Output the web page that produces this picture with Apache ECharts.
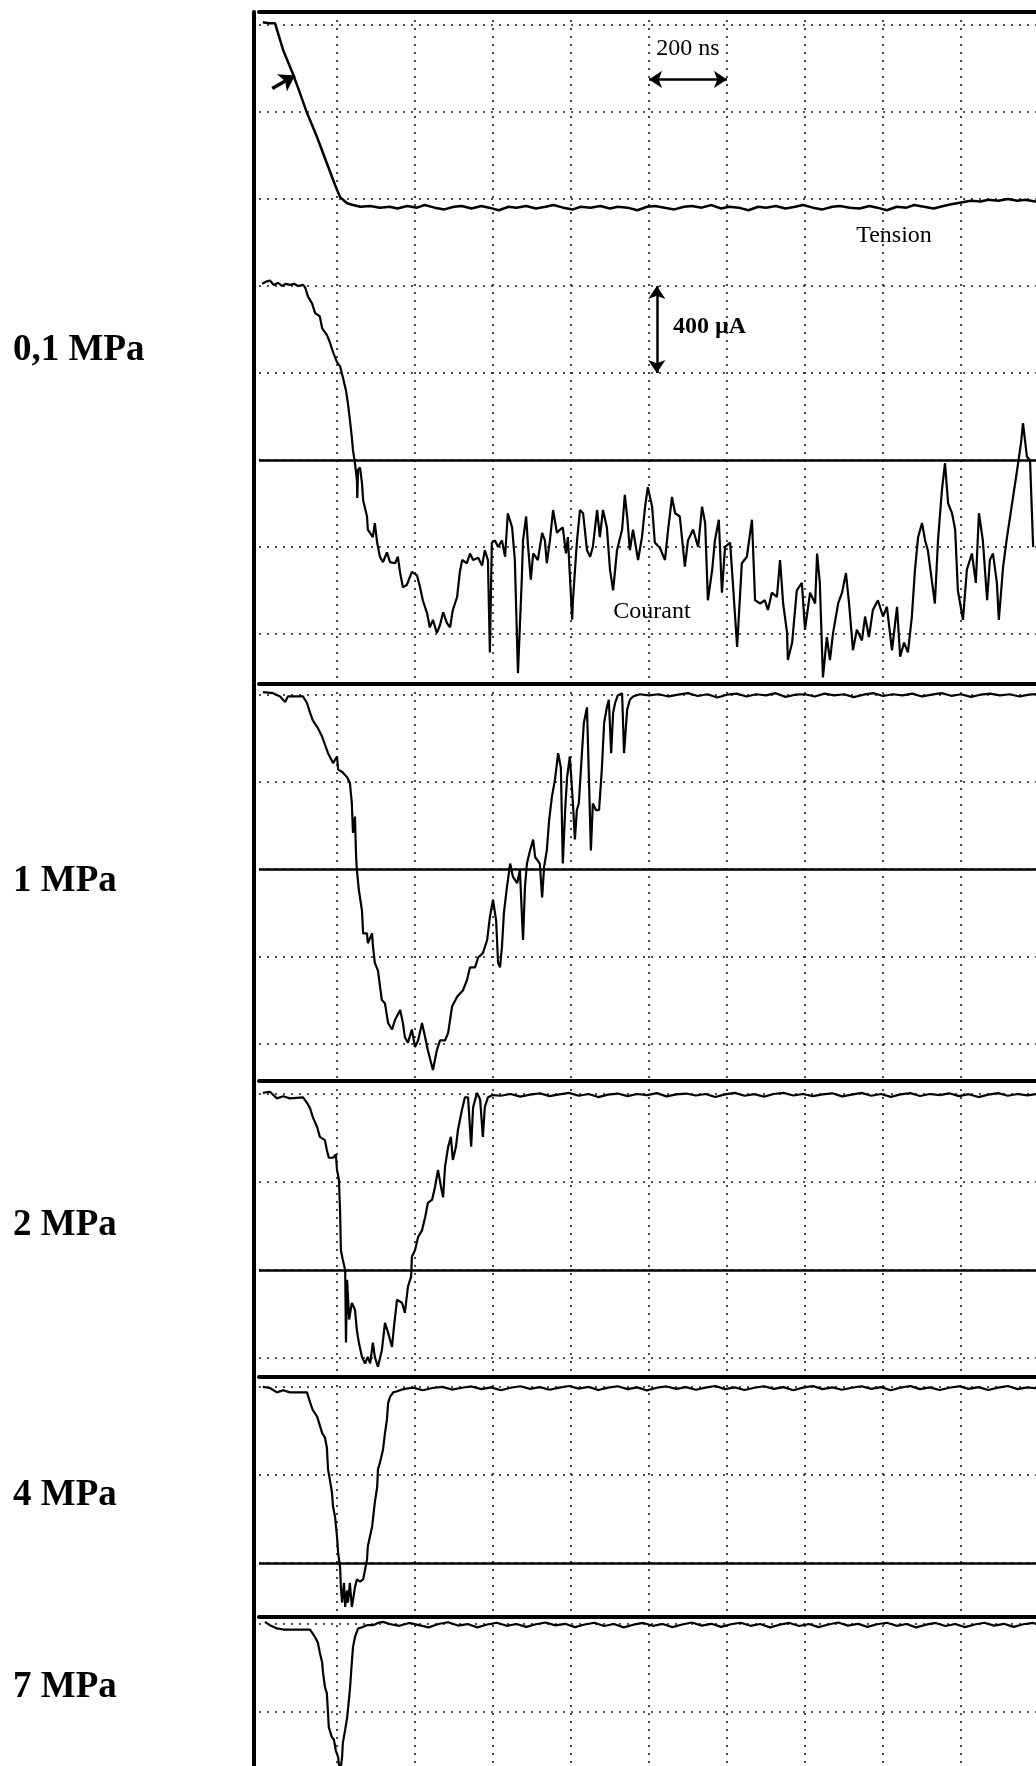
<!DOCTYPE html>
<html>
<head>
<meta charset="utf-8">
<script src="https://cdn.jsdelivr.net/npm/echarts@6/dist/echarts.min.js"></script>
<style>
  html, body { margin: 0; padding: 0; background: #fff; }
  #chart { width: 1036px; height: 1766px; }
</style>
</head>
<body>
<div id="chart"></div>
<script>
// temps en ns (200 ns / div), courant en µA (400 µA / div), tension en divisions
const pressures = ['0,1 MPa', '1 MPa', '2 MPa', '4 MPa', '7 MPa'];

const tension01 = [[10,5.03],[25,5.02],[41,5.02],[62,4.71],[85,4.46],[100,4.28],[123,3.99],[149,3.71],[174,3.41],[195,3.16],[208,3.02],[226,2.95],[241,2.93],
  [260,2.91],[285,2.92],[310,2.90],[335,2.91],[355,2.89],[380,2.92],[405,2.90],[425,2.93],[450,2.90],[475,2.88],[500,2.91],[520,2.92],[545,2.89],[570,2.92],
  [590,2.90],[615,2.87],[640,2.91],[660,2.90],[685,2.92],[710,2.89],[735,2.91],[755,2.93],[780,2.90],[805,2.88],[825,2.91],[850,2.90],[875,2.92],[900,2.89],
  [920,2.91],[945,2.90],[970,2.87],[995,2.91],[1015,2.92],[1040,2.90],[1065,2.88],[1090,2.91],[1110,2.92],[1135,2.90],[1160,2.93],[1185,2.89],[1205,2.91],
  [1230,2.90],[1255,2.87],[1280,2.91],[1300,2.90],[1325,2.92],[1350,2.89],[1375,2.91],[1395,2.93],[1420,2.90],[1445,2.88],[1470,2.91],[1490,2.92],[1515,2.90],
  [1540,2.89],[1565,2.92],[1585,2.90],[1610,2.87],[1635,2.91],[1660,2.90],[1680,2.93],[1705,2.91],[1730,2.89],[1755,2.92],[1775,2.94],[1800,2.96],[1825,2.98],
  [1850,2.97],[1870,2.99],[1895,2.98],[1920,3.00],[1945,2.98],[1965,2.99],[1990,2.97],[2002,2.98]];

const courant01 = [[8,810],[18,820],[28,825],[38,805],[49,815],[59,800],[69,810],[79,805],[90,810],[100,800],[113,805],[118,795],[126,750],[136,720],[144,675],
  [156,660],[162,605],[174,575],[182,540],[190,495],[200,450],[208,430],[215,380],[223,320],[228,260],[233,185],[238,105],[241,45],[246,-15],[251,-90],[252,-175],
  [254,-45],[259,-35],[264,-105],[267,-185],[277,-260],[279,-320],[292,-355],[297,-290],[303,-380],[310,-445],[318,-470],[328,-425],[336,-470],[349,-475],
  [356,-445],[362,-520],[369,-585],[379,-575],[392,-515],[405,-530],[413,-585],[420,-645],[431,-705],[438,-770],[446,-735],[456,-795],[464,-760],[472,-700],
  [482,-750],[490,-770],[497,-690],[508,-630],[515,-515],[521,-460],[533,-475],[541,-430],[549,-460],[562,-450],[572,-485],[579,-415],[587,-460],[592,-885],
  [597,-380],[605,-370],[613,-400],[623,-370],[631,-445],[638,-245],[649,-310],[656,-460],[664,-980],[674,-540],[677,-370],[685,-260],[690,-400],[697,-550],
  [703,-430],[715,-460],[726,-335],[733,-370],[738,-475],[746,-370],[754,-230],[764,-335],[772,-320],[779,-310],[787,-430],[792,-355],[803,-735],[805,-645],
  [815,-380],[823,-230],[831,-245],[841,-415],[849,-445],[856,-400],[867,-230],[874,-355],[882,-230],[892,-310],[900,-505],[908,-600],[918,-415],[931,-320],
  [938,-160],[944,-260],[951,-415],[959,-320],[972,-460],[982,-355],[990,-215],[997,-125],[1008,-215],[1015,-380],[1028,-405],[1041,-460],[1049,-320],
  [1059,-170],[1067,-245],[1079,-260],[1092,-490],[1100,-370],[1113,-320],[1126,-400],[1136,-215],[1144,-290],[1151,-645],[1162,-505],[1169,-370],[1179,-275],
  [1187,-610],[1195,-400],[1208,-380],[1215,-565],[1226,-860],[1238,-475],[1251,-445],[1264,-275],[1272,-645],[1285,-660],[1297,-645],[1305,-690],[1315,-610],
  [1328,-630],[1336,-460],[1344,-660],[1354,-795],[1356,-920],[1367,-840],[1379,-600],[1392,-565],[1400,-780],[1413,-610],[1426,-660],[1431,-430],[1438,-565],
  [1446,-1000],[1456,-815],[1464,-920],[1472,-795],[1485,-660],[1495,-610],[1505,-520],[1513,-660],[1523,-875],[1533,-780],[1546,-830],[1554,-720],[1564,-815],
  [1574,-690],[1587,-645],[1600,-720],[1610,-675],[1623,-875],[1636,-675],[1644,-905],[1654,-840],[1664,-885],[1674,-720],[1682,-505],[1690,-355],[1700,-290],
  [1708,-370],[1715,-415],[1726,-565],[1733,-660],[1741,-370],[1751,-140],[1759,-15],[1767,-200],[1777,-245],[1785,-320],[1792,-600],[1805,-735],[1815,-505],
  [1828,-430],[1838,-565],[1846,-245],[1856,-370],[1867,-645],[1874,-460],[1882,-430],[1892,-565],[1897,-735],[1908,-490],[1918,-355],[1931,-200],[1944,-45],
  [1954,80],[1959,170],[1969,15],[1977,0],[1985,-400]];

const courant1 = [[10,810],[36,805],[54,790],[67,765],[74,790],[87,790],[113,790],[123,760],[131,715],[138,680],[151,645],[162,605],[169,570],[177,530],[190,485],
  [200,515],[203,455],[213,445],[226,420],[233,395],[238,300],[241,165],[246,240],[249,55],[251,-5],[256,-95],[264,-190],[267,-295],[277,-295],[279,-340],
  [290,-295],[292,-350],[297,-430],[305,-465],[315,-600],[323,-615],[331,-705],[341,-735],[349,-690],[362,-645],[369,-705],[374,-770],[382,-795],[392,-735],
  [400,-815],[408,-785],[418,-705],[426,-770],[433,-830],[446,-920],[456,-830],[464,-785],[477,-785],[485,-750],[495,-630],[508,-585],[523,-555],[533,-510],
  [541,-450],[554,-450],[562,-405],[574,-385],[585,-325],[592,-220],[600,-140],[608,-235],[613,-430],[618,-450],[623,-355],[628,-200],[636,-80],[644,25],
  [651,-35],[662,-65],[669,-5],[677,-325],[682,-80],[687,25],[695,85],[703,135],[708,55],[720,25],[726,-130],[731,10],[738,85],[744,225],[751,330],[759,410],
  [767,530],[774,465],[779,25],[785,270],[790,420],[797,515],[805,300],[810,135],[815,270],[820,300],[828,530],[833,670],[841,740],[846,740],[851,85],[856,300],
  [864,270],[872,270],[879,455],[885,670],[892,740],[897,775],[903,530],[908,715],[913,760],[920,795],[931,805],[936,530],[944,730],[951,775],[959,790],[977,800],
  [1000,795],[1025,800],[1050,790],[1075,798],[1100,805],[1125,792],[1150,800],[1175,785],[1200,798],[1225,803],[1250,790],[1275,800],[1300,795],[1325,805],
  [1350,788],[1375,798],[1400,800],[1425,790],[1450,803],[1475,795],[1500,800],[1525,787],[1550,798],[1575,805],[1600,792],[1625,800],[1650,795],[1675,803],
  [1700,790],[1725,798],[1750,805],[1775,793],[1800,800],[1825,788],[1850,798],[1875,803],[1900,795],[1925,800],[1950,790],[1975,798],[2002,802]];

const courant2 = [[10,805],[28,810],[46,780],[62,790],[79,780],[113,785],[123,760],[131,735],[138,695],[149,650],[156,605],[169,590],[174,545],[179,510],[190,510],
  [197,525],[200,455],[205,410],[208,260],[210,90],[215,45],[221,0],[223,-330],[226,-45],[231,-225],[238,-150],[246,-180],[251,-275],[256,-330],[264,-395],
  [272,-425],[279,-395],[285,-425],[292,-330],[297,-395],[305,-440],[315,-365],[323,-240],[331,-285],[341,-350],[346,-260],[354,-135],[367,-150],[374,-195],
  [382,-75],[390,-30],[392,60],[400,90],[408,150],[418,180],[426,240],[433,305],[444,320],[451,375],[459,455],[467,375],[472,330],[477,470],[485,560],[492,605],
  [497,500],[505,560],[510,635],[520,725],[528,785],[536,785],[544,560],[549,740],[559,805],[567,775],[574,605],[579,740],[587,785],[600,795],
  [620,792],[645,800],[670,788],[695,797],[720,803],[745,790],[770,798],[795,805],[820,792],[845,800],[870,786],[895,797],[920,802],[945,790],[970,800],[995,795],
  [1020,804],[1045,789],[1070,798],[1095,802],[1120,793],[1145,800],[1170,786],[1195,798],[1220,805],[1245,792],[1270,799],[1295,788],[1320,800],[1345,805],
  [1370,793],[1395,800],[1420,790],[1445,798],[1470,803],[1495,789],[1520,797],[1545,805],[1570,792],[1595,800],[1620,787],[1645,798],[1670,804],[1695,791],
  [1720,800],[1745,795],[1770,803],[1795,790],[1820,799],[1845,786],[1870,797],[1895,804],[1920,792],[1945,800],[1970,794],[2002,801]];

const courant4 = [[10,800],[28,795],[46,775],[62,785],[79,775],[100,775],[123,775],[131,730],[138,695],[149,665],[156,625],[162,590],[169,570],[174,525],[177,425],
  [182,375],[187,320],[190,255],[195,210],[200,120],[203,45],[208,-20],[210,-110],[213,-180],[218,-90],[221,-200],[226,-125],[228,-180],[233,-90],[238,-200],
  [241,-170],[246,-110],[251,-75],[259,-85],[267,-75],[272,-30],[277,15],[279,75],[290,165],[297,275],[303,345],[305,425],[310,455],[318,515],[323,590],[328,650],
  [331,725],[336,755],[344,775],[354,780],
  [370,790],[395,797],[420,785],[445,795],[470,800],[495,788],[520,796],[545,802],[570,790],[595,798],[620,785],[645,796],[670,803],[695,791],[720,799],[745,787],
  [770,797],[795,804],[820,792],[845,800],[870,786],[895,797],[920,803],[945,790],[970,798],[995,784],[1020,796],[1045,802],[1070,791],[1095,799],[1120,787],
  [1145,797],[1170,804],[1195,790],[1220,798],[1245,786],[1270,796],[1295,803],[1320,791],[1345,799],[1370,785],[1395,797],[1420,804],[1445,790],[1470,798],
  [1495,787],[1520,796],[1545,803],[1570,791],[1595,799],[1620,785],[1645,797],[1670,804],[1695,790],[1720,798],[1745,786],[1770,796],[1795,803],[1820,791],
  [1845,799],[1870,786],[1895,797],[1920,804],[1945,790],[1970,798],[2002,792]];

const courant7 = [[15,810],[28,795],[46,780],[62,775],[87,775],[113,775],[131,775],[144,740],[151,715],[156,670],[162,625],[164,580],[169,515],[174,485],[177,395],
  [179,330],[187,285],[192,275],[197,225],[203,195],[205,160],[210,150],[213,195],[215,260],[221,320],[226,375],[228,410],[233,500],[238,625],[241,695],[246,740],
  [254,780],[264,785],[277,795],[292,795],[305,805],[318,810],
  [335,800],[360,792],[385,805],[410,795],[435,785],[460,800],[485,808],[510,793],[535,800],[560,785],[585,798],[610,806],[635,792],[660,800],[685,787],[710,799],
  [735,807],[760,794],[785,801],[810,786],[835,798],[860,806],[885,791],[910,800],[935,785],[960,797],[985,805],[1010,792],[1035,800],[1060,786],[1085,798],
  [1110,807],[1135,793],[1160,801],[1185,787],[1210,799],[1235,806],[1260,792],[1285,800],[1310,785],[1335,797],[1360,805],[1385,791],[1410,800],[1435,786],
  [1460,798],[1485,807],[1510,793],[1535,801],[1560,787],[1585,799],[1610,806],[1635,792],[1660,800],[1685,785],[1710,797],[1735,805],[1760,791],[1785,800],
  [1810,786],[1835,798],[1860,806],[1885,793],[1910,801],[1935,787],[1960,799],[1985,805],[2002,795]];

const courants = [courant01, courant1, courant2, courant4, courant7];

// cadre de chaque oscillogramme (pixels) et étendue verticale en µA
const panels = [
  { top: 12, height: 670, min: -1021, max: 2060, labelY: 350 },
  { top: 684, height: 396, min: -966, max: 847, labelY: 881 },
  { top: 1081, height: 295, min: -482, max: 859, labelY: 1225 },
  { top: 1377, height: 239, min: -241, max: 845, labelY: 1495 },
  { top: 1617, height: 200, min: -77, max: 832, labelY: 1687 }
];

const frame = { color: '#000', width: 4 };
const dotted = { color: '#1a1a1a', width: 1.6, type: [2, 6] };
const serif = '"Liberation Serif", "DejaVu Serif", serif';

// le cadre déborde à droite et en bas : on ne laisse pas ECharts le ramener dans le canvas
const grid = panels.map(p => ({ left: 259, width: 780, top: p.top, height: p.height, outerBoundsMode: 'none', containLabel: false }));

const xAxis = panels.map((p, i) => ({
  type: 'value', gridIndex: i, position: 'top',
  min: 0, max: 2000, interval: 200,
  axisLine: { show: true, onZero: false, lineStyle: frame },
  axisTick: { show: false }, axisLabel: { show: false },
  splitLine: { show: true, showMinLine: false, showMaxLine: false, lineStyle: dotted }
}));

const yAxis = panels.map((p, i) => ({
  type: 'value', gridIndex: i, position: 'left', offset: 5,
  min: p.min, max: p.max, minInterval: 400, maxInterval: 400, splitNumber: 6,
  axisLine: { show: true, onZero: false, lineStyle: frame },
  axisTick: { show: false }, axisLabel: { show: false },
  splitLine: { show: true, showMinLine: false, showMaxLine: false, lineStyle: dotted }
}));
// axe caché pour la tension (en divisions)
yAxis.push({ type: 'value', gridIndex: 0, min: -2.552, max: 5.149, show: false, splitLine: { show: false } });

const zeroLine = { yAxis: 0 };
const arrowPair = (a, b) => [{ coord: a, symbol: 'arrow' }, { coord: b, symbol: 'arrow' }];

const series = courants.map((d, i) => ({
  type: 'line', xAxisIndex: i, yAxisIndex: i, data: d,
  showSymbol: false, silent: true,
  lineStyle: { color: '#000', width: 2.2 },
  markLine: {
    silent: true, symbol: ['none', 'none'], symbolSize: 13,
    label: { show: false },
    lineStyle: { color: '#000', width: 2.5, type: 'solid' },
    data: i === 0
      ? [zeroLine, arrowPair([1000, 1750], [1200, 1750]), arrowPair([1020, 800], [1020, 400])]
      : [zeroLine]
  }
}));

series.push({
  type: 'line', xAxisIndex: 0, yAxisIndex: 5, data: tension01,
  showSymbol: false, silent: true,
  lineStyle: { color: '#000', width: 2.5 },
  markLine: {
    silent: true, symbol: ['none', 'none'], symbolSize: 15,
    label: { show: false },
    lineStyle: { color: '#000', width: 3.5, type: 'solid' },
    data: [[{ coord: [34, 4.27], symbol: 'none' }, { coord: [92, 4.42], symbol: 'arrow' }]]
  }
});

const txt = (x, y, text, size, bold, align) => ({
  type: 'text', x: x, y: y, silent: true,
  style: {
    text: text, fill: '#000',
    font: (bold ? 'bold ' : '') + size + 'px ' + serif,
    textAlign: align, textVerticalAlign: 'middle', align: align, verticalAlign: 'middle'
  }
});

const graphic = pressures.map((t, i) => txt(13, panels[i].labelY, t, 37, true, 'left'));
graphic.push(txt(688, 49, '200 ns', 24, false, 'center'));
graphic.push(txt(894, 236, 'Tension', 24, false, 'center'));
graphic.push(txt(673, 327, '400 µA', 24, true, 'left'));
graphic.push(txt(652, 612, 'Courant', 24, false, 'center'));

const chart = echarts.init(document.getElementById('chart'), null, { renderer: 'canvas' });
chart.setOption({
  backgroundColor: '#fff',
  animation: false,
  grid: grid,
  xAxis: xAxis,
  yAxis: yAxis,
  series: series,
  graphic: graphic
});
</script>
</body>
</html>
